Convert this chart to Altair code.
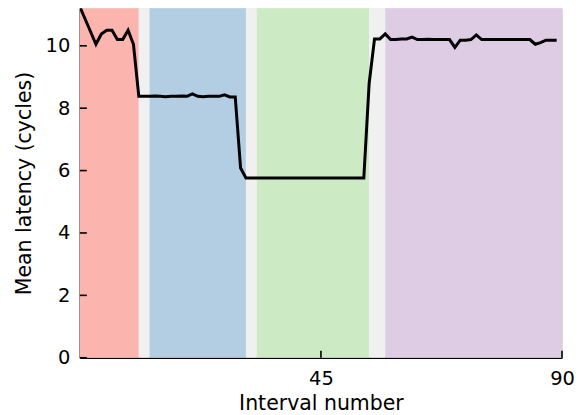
import altair as alt
import pandas as pd

interval = list(range(90))
latency = [
    11.25, 10.85, 10.45, 10.05, 10.38, 10.5, 10.5, 10.2, 10.2, 10.5,
    10.05, 8.38, 8.38, 8.38, 8.39, 8.38, 8.37, 8.38, 8.38, 8.39,
    8.38, 8.46, 8.38, 8.37, 8.38, 8.38, 8.38, 8.43, 8.36, 8.36,
    6.08, 5.76, 5.76, 5.76, 5.76, 5.76, 5.76, 5.76, 5.76, 5.76,
    5.76, 5.76, 5.76, 5.76, 5.76, 5.76, 5.76, 5.76, 5.76, 5.76,
    5.76, 5.76, 5.76, 5.76, 8.8, 10.22, 10.22, 10.38, 10.2, 10.2,
    10.22, 10.22, 10.28, 10.2, 10.2, 10.21, 10.2, 10.2, 10.2, 10.2,
    9.95, 10.18, 10.18, 10.2, 10.35, 10.2, 10.2, 10.2, 10.2, 10.2,
    10.2, 10.2, 10.2, 10.2, 10.2, 10.05, 10.1, 10.18, 10.18, 10.18,
]

band_start = [0, 11, 13, 31, 33, 54, 57]
band_end = [11, 13, 31, 33, 54, 57, 90]
band_color = ["#fbb4ae", "#f0f0f0", "#b3cde3", "#f0f0f0", "#ccebc5", "#f0f0f0", "#decbe4"]

x_ticks = [45, 90]
y_ticks = [0, 2, 4, 6, 8, 10]

FONT = "DejaVu Sans"
FS = 19.5
TFS = 20.5
W, H = 483, 350

line_df = pd.DataFrame({"interval": interval, "latency": latency})
band_df = pd.DataFrame({"start": band_start, "end": band_end, "color": band_color})
xt_df = pd.DataFrame({"t": x_ticks})
yt_df = pd.DataFrame({"t": y_ticks})

xscale = alt.Scale(domain=[0, 90], nice=False, zero=False)
yscale = alt.Scale(domain=[0, 11.2], nice=False, zero=False)

bands = alt.Chart(band_df).mark_rect(opacity=1).encode(
    x=alt.X("start:Q", scale=xscale,
            axis=alt.Axis(values=x_ticks, title="Interval number", grid=False,
                          ticks=False, labelPadding=12, domainColor="black",
                          domainWidth=1.6, labelColor="black", titleColor="black",
                          labelFontSize=FS, titleFontSize=TFS, titleFontWeight="normal",
                          labelFont=FONT, titleFont=FONT, titlePadding=5,
                          labelFlush=False)),
    x2="end:Q",
    y=alt.value(0),
    y2=alt.value(H),
    color=alt.Color("color:N", scale=None),
)

line = alt.Chart(line_df).mark_line(color="black", strokeWidth=3, clip=True).encode(
    x=alt.X("interval:Q", scale=xscale),
    y=alt.Y("latency:Q", scale=yscale,
            axis=alt.Axis(values=y_ticks, title="Mean latency (cycles)", grid=False,
                          ticks=False, labelPadding=10, domainColor="black",
                          domainWidth=1.6, labelColor="black", titleColor="black",
                          labelFontSize=FS, titleFontSize=TFS, titleFontWeight="normal",
                          labelFont=FONT, titleFont=FONT, titlePadding=11,
                          labelFlush=False)),
)

xticks = alt.Chart(xt_df).mark_rule(color="black", strokeWidth=1.6).encode(
    x=alt.X("t:Q", scale=xscale),
    y=alt.value(H),
    y2=alt.value(H - 7),
)

yticks = alt.Chart(yt_df).mark_rule(color="black", strokeWidth=1.6).encode(
    y=alt.Y("t:Q", scale=yscale),
    x=alt.value(0),
    x2=alt.value(7),
)

chart = alt.layer(bands, line, xticks, yticks).properties(
    width=W, height=H,
    autosize=alt.AutoSizeParams(type="none"),
    padding={"left": 72, "top": 0, "right": 14, "bottom": 60},
).configure_view(stroke=None).configure(background="white")

chart.save("out.html", embed_options={"renderer": "svg", "actions": False})
